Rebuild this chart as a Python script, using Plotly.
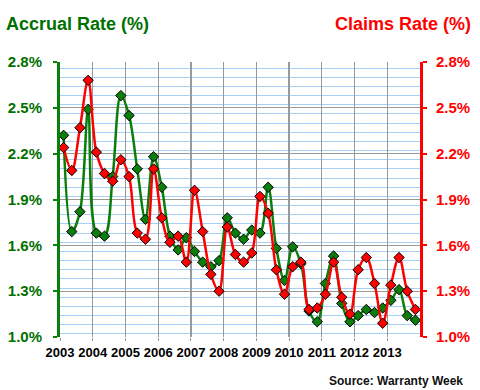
import plotly.graph_objects as go

years = list(range(2003, 2014))
quarters = [1, 2, 3, 4]

accrual_rate = [
    2.32, 1.69, 1.82, 2.49,
    1.68, 1.66, 2.05, 2.58,
    2.45, 2.10, 1.77, 2.18,
    1.98, 1.66, 1.57, 1.65,
    1.56, 1.49, 1.46, 1.50,
    1.78, 1.68, 1.64, 1.70,
    1.68, 1.98, 1.58, 1.37,
    1.59, 1.48, 1.17, 1.10,
    1.35, 1.53, 1.22, 1.10,
    1.14, 1.18, 1.16, 1.19,
    1.24, 1.31, 1.14, 1.11,
]
claims_rate = [
    2.24, 2.09, 2.37, 2.68,
    2.21, 2.07, 2.02, 2.16,
    2.05, 1.68, 1.64, 2.10,
    1.78, 1.62, 1.66, 1.49,
    1.96, 1.69, 1.41, 1.30,
    1.72, 1.54, 1.49, 1.55,
    1.92, 1.81, 1.44, 1.28,
    1.46, 1.49, 1.18, 1.19,
    1.28, 1.49, 1.26, 1.15,
    1.44, 1.52, 1.35, 1.09,
    1.34, 1.52, 1.30, 1.18,
]
y_ticks = [1.0, 1.3, 1.6, 1.9, 2.2, 2.5, 2.8]

x = [y + (q - 1) / 4 + 0.11 for y in years for q in quarters]

GREEN = "#0b7d0b"
GREEN_TXT = "#007000"
RED = "#ff0000"
FONT = "Liberation Sans, Arial, sans-serif"

fig = go.Figure()
fig.add_trace(go.Scatter(
    x=x, y=claims_rate, yaxis="y2", mode="lines+markers",
    line=dict(color=RED, width=2.5, shape="spline", smoothing=1.0),
    marker=dict(symbol="diamond", size=8, color=RED, line=dict(color="black", width=1)),
    name="Claims Rate", hoverinfo="skip",
))
fig.add_trace(go.Scatter(
    x=x, y=accrual_rate, mode="lines+markers",
    line=dict(color=GREEN, width=2.5, shape="spline", smoothing=1.0),
    marker=dict(symbol="diamond", size=8, color=GREEN, line=dict(color="black", width=1)),
    name="Accrual Rate", hoverinfo="skip",
))

yrange = [y_ticks[0], y_ticks[-1]]
common_y = dict(range=yrange, tickvals=y_ticks, ticktext=[f"{v:.1f}%" for v in y_ticks],
                fixedrange=True, zeroline=False, automargin=False)

fig.update_layout(
    width=480, height=390,
    margin=dict(l=60, r=60, t=62, b=53, autoexpand=False),
    paper_bgcolor="white", plot_bgcolor="white",
    showlegend=False,
    font=dict(family=FONT),
    xaxis=dict(
        range=[years[0], years[-1] + 1],
        tickvals=years, ticktext=[str(y) for y in years],
        showgrid=True, gridcolor="#999999", gridwidth=1.2,
        ticks="outside", ticklen=3, tickcolor="#999999",
        showline=False, zeroline=False, automargin=False, fixedrange=True,
        tickfont=dict(size=13, color="black", family=FONT, weight="bold"),
    ),
    yaxis=dict(
        **common_y, side="left",
        showgrid=True, gridcolor="#999999", gridwidth=1.2,
        minor=dict(dtick=0.06, showgrid=True, gridcolor="#a6d0f5", gridwidth=1),
        showline=True, linecolor=GREEN, linewidth=3,
        ticks="outside", ticklen=4, tickcolor=GREEN, tickwidth=2,
        tickfont=dict(size=15, color=GREEN_TXT, family=FONT, weight="bold"),
        ticklabelstandoff=8,
    ),
    yaxis2=dict(
        **common_y, side="right", overlaying="y",
        showgrid=False,
        showline=True, linecolor=RED, linewidth=3,
        ticks="outside", ticklen=4, tickcolor=RED, tickwidth=2,
        tickfont=dict(size=15, color=RED, family=FONT, weight="bold"),
        ticklabelstandoff=6,
    ),
    yaxis3=dict(
        **common_y, side="left", overlaying="y",
        showgrid=False, showline=False, showticklabels=False,
        ticks="inside", ticklen=5, tickcolor=GREEN, tickwidth=2,
    ),
    yaxis4=dict(
        **common_y, side="right", overlaying="y",
        showgrid=False, showline=False, showticklabels=False,
        ticks="inside", ticklen=5, tickcolor=RED, tickwidth=2,
    ),
    annotations=[
        dict(text="Accrual Rate (%)", xref="paper", yref="paper", x=-0.155, y=1.14,
             xanchor="left", yanchor="middle", showarrow=False,
             font=dict(size=18, color=GREEN_TXT, family=FONT, weight="bold")),
        dict(text="Claims Rate (%)", xref="paper", yref="paper", x=1.147, y=1.14,
             xanchor="right", yanchor="middle", showarrow=False,
             font=dict(size=18, color=RED, family=FONT, weight="bold")),
        dict(text="Source: Warranty Week", xref="paper", yref="paper", x=1.126, y=-0.16,
             xanchor="right", yanchor="middle", showarrow=False,
             font=dict(size=12, color="#111111", family=FONT, weight="bold")),
    ],
)

fig.write_html(
    "out.html",
    config={"displayModeBar": False, "staticPlot": True},
    post_script="document.body.style.margin='0';document.body.style.padding='0';",
)
